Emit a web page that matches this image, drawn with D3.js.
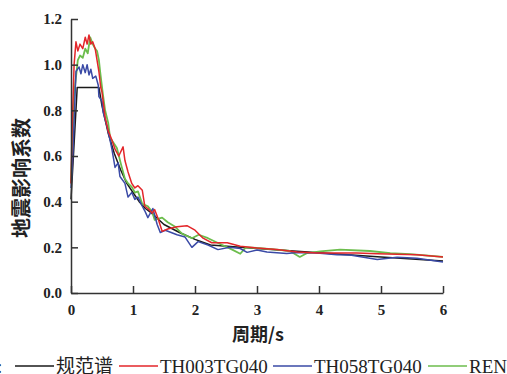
<!DOCTYPE html>
<html>
<head>
<meta charset="utf-8">
<script src="https://cdn.jsdelivr.net/npm/d3@7"></script>
<style>
  body { margin: 0; background: #fff; }
  svg { display: block; }
</style>
</head>
<body>
<div id="chart"></div>
<script>
// 周期 (s) / 地震影响系数
const codeT = [0, 0.1, 0.45, 0.5, 0.6, 0.7, 0.8, 0.9, 1.0, 1.1, 1.2, 1.3, 1.5, 1.75, 2.0, 2.25, 3, 4, 5, 6];
const codeV = [0.41, 0.9, 0.9, 0.82, 0.70, 0.61, 0.54, 0.48, 0.44, 0.40, 0.37, 0.35, 0.30, 0.265, 0.235, 0.21, 0.195, 0.176, 0.158, 0.14];

const th003T = [0, 0.016, 0.05, 0.08, 0.11, 0.145, 0.19, 0.23, 0.26, 0.29, 0.32, 0.35, 0.39, 0.42, 0.45, 0.48, 0.5, 0.55, 0.6, 0.66, 0.71, 0.77, 0.84, 0.87, 0.92, 0.98, 1.03, 1.08, 1.15, 1.19, 1.24, 1.31, 1.35, 1.4, 1.47, 1.56, 1.71, 1.87, 2.0, 2.13, 2.27, 2.52, 2.73, 3.0, 3.32, 3.65, 3.97, 4.29, 4.61, 4.94, 5.26, 5.58, 6.0];
const th003V = [0.48, 0.7, 1.0, 1.10, 1.06, 1.09, 1.07, 1.12, 1.09, 1.13, 1.09, 1.10, 1.07, 1.02, 0.97, 0.90, 0.88, 0.77, 0.71, 0.67, 0.63, 0.60, 0.64, 0.58, 0.53, 0.48, 0.46, 0.47, 0.45, 0.38, 0.37, 0.35, 0.365, 0.33, 0.27, 0.28, 0.29, 0.295, 0.275, 0.24, 0.22, 0.22, 0.205, 0.197, 0.19, 0.18, 0.175, 0.175, 0.175, 0.172, 0.17, 0.167, 0.158];

const th058T = [0, 0.03, 0.08, 0.13, 0.16, 0.19, 0.23, 0.26, 0.29, 0.32, 0.35, 0.4, 0.44, 0.45, 0.5, 0.52, 0.58, 0.63, 0.66, 0.71, 0.76, 0.79, 0.87, 0.92, 0.98, 1.03, 1.08, 1.15, 1.19, 1.24, 1.32, 1.39, 1.44, 1.52, 1.71, 1.84, 1.95, 2.05, 2.21, 2.37, 2.56, 2.73, 2.84, 3.0, 3.16, 3.48, 3.65, 3.97, 4.29, 4.5, 4.94, 5.26, 5.58, 6.0];
const th058V = [0.46, 0.6, 0.97, 0.99, 0.96, 1.0, 0.965, 1.0, 0.955, 0.98, 0.94, 0.95, 0.91, 0.86, 0.84, 0.79, 0.73, 0.67, 0.63, 0.55, 0.57, 0.51, 0.48, 0.42, 0.44, 0.41, 0.42, 0.38, 0.36, 0.33, 0.37, 0.30, 0.265, 0.275, 0.255, 0.245, 0.20, 0.225, 0.21, 0.19, 0.20, 0.195, 0.178, 0.188, 0.18, 0.173, 0.177, 0.175, 0.167, 0.166, 0.147, 0.157, 0.152, 0.136];

const renT = [0, 0.016, 0.05, 0.11, 0.145, 0.19, 0.23, 0.27, 0.31, 0.35, 0.39, 0.42, 0.45, 0.47, 0.51, 0.55, 0.6, 0.63, 0.68, 0.74, 0.81, 0.87, 0.92, 0.98, 1.03, 1.08, 1.15, 1.24, 1.31, 1.35, 1.47, 1.56, 1.68, 1.79, 1.95, 2.06, 2.21, 2.44, 2.6, 2.73, 2.82, 3.0, 3.32, 3.53, 3.69, 3.81, 4.02, 4.34, 4.82, 5.15, 5.47, 6.0];
const renV = [0.48, 0.6, 0.87, 1.02, 1.04, 1.03, 1.07, 1.05, 1.12, 1.09, 1.07, 1.06, 1.02, 0.97, 0.88, 0.80, 0.745, 0.68, 0.66, 0.635, 0.56, 0.50, 0.48, 0.465, 0.44, 0.445, 0.39, 0.38, 0.355, 0.32, 0.33, 0.31, 0.29, 0.26, 0.24, 0.255, 0.24, 0.21, 0.19, 0.172, 0.2, 0.197, 0.19, 0.184, 0.158, 0.175, 0.182, 0.19, 0.184, 0.175, 0.17, 0.158];

const xTicks = [0, 1, 2, 3, 4, 5, 6];
const yTicks = [0, 0.2, 0.4, 0.6, 0.8, 1.0, 1.2];
const seriesNames = ['规范谱', 'TH003TG040', 'TH058TG040', 'REN'];
const seriesColors = ['#1a1a1a', '#e3262a', '#3a4aa6', '#6cbd4c'];

const W = 507, H = 374;
const margin = { top: 19, right: 64, bottom: 81, left: 71 };
const width = W - margin.left - margin.right;
const height = H - margin.top - margin.bottom;

const serif = '"Liberation Serif", "Times New Roman", serif';
const cjk = '"Noto Sans CJK SC", sans-serif';

const svg = d3.select('#chart').append('svg')
  .attr('width', W)
  .attr('height', H);

const g = svg.append('g')
  .attr('transform', `translate(${margin.left},${margin.top})`);

const x = d3.scaleLinear().domain([0, 6]).range([0, width]);
const y = d3.scaleLinear().domain([0, 1.2]).range([height, 0]);

const series = [
  { T: codeT, V: codeV },
  { T: th003T, V: th003V },
  { T: th058T, V: th058V },
  { T: renT, V: renV }
];

const line = d3.line()
  .x((d) => x(d[0]))
  .y((d) => y(d[1]));

// draw order: code, green, blue, red
[0, 3, 2, 1].forEach((i) => {
  const s = series[i];
  g.append('path')
    .datum(s.T.map((t, k) => [t, s.V[k]]))
    .attr('fill', 'none')
    .attr('stroke', seriesColors[i])
    .attr('stroke-width', i === 3 ? 1.8 : 1.5)
    .attr('stroke-linejoin', 'round')
    .attr('d', line);
});

const xAxis = g.append('g')
  .attr('transform', `translate(0,${height})`)
  .call(d3.axisBottom(x).tickValues(xTicks).tickFormat(d3.format('d')).tickSizeInner(-7).tickSizeOuter(0).tickPadding(11));

const yAxis = g.append('g')
  .call(d3.axisLeft(y).tickValues(yTicks).tickFormat(d3.format('.1f')).tickSizeInner(-7).tickSizeOuter(0).tickPadding(9));

[xAxis, yAxis].forEach((a) => {
  a.attr('font-family', serif).attr('font-size', 15).attr('font-weight', 'bold');
  a.select('.domain').attr('stroke', '#333').attr('stroke-width', 1.5);
  a.selectAll('.tick line').attr('stroke', '#333').attr('stroke-width', 1.5);
  a.selectAll('.tick text')
    .attr('fill', '#222')
    .attr('font-family', serif);
});
xAxis.selectAll('.tick text').attr('dy', '0.71em');

svg.append('text')
  .attr('x', 258)
  .attr('y', 341)
  .attr('text-anchor', 'middle')
  .attr('font-family', cjk)
  .attr('font-size', 18)
  .attr('font-weight', 'bold')
  .attr('fill', '#222')
  .text('周期/s');

svg.append('text')
  .attr('transform', 'translate(29,178) rotate(-90)')
  .attr('text-anchor', 'middle')
  .attr('font-family', cjk)
  .attr('font-size', 20)
  .attr('font-weight', 'bold')
  .attr('fill', '#222')
  .text('地震影响系数');

// legend
const legendY = 366;
svg.append('text')
  .attr('x', -3)
  .attr('y', legendY + 7)
  .attr('font-family', serif)
  .attr('font-size', 19)
  .attr('fill', '#222')
  .text(':');

const legendX = [15, 119, 273, 428];
const legend = svg.append('g');
seriesNames.forEach((name, i) => {
  legend.append('line')
    .attr('x1', legendX[i]).attr('x2', legendX[i] + 39)
    .attr('y1', legendY).attr('y2', legendY)
    .attr('stroke', seriesColors[i])
    .attr('stroke-width', 1.5);
  legend.append('text')
    .attr('x', legendX[i] + 41)
    .attr('y', legendY + 7)
    .attr('font-family', i === 0 ? cjk : serif)
    .attr('font-size', 19)
    .attr('fill', '#222')
    .text(name);
});
</script>
</body>
</html>
